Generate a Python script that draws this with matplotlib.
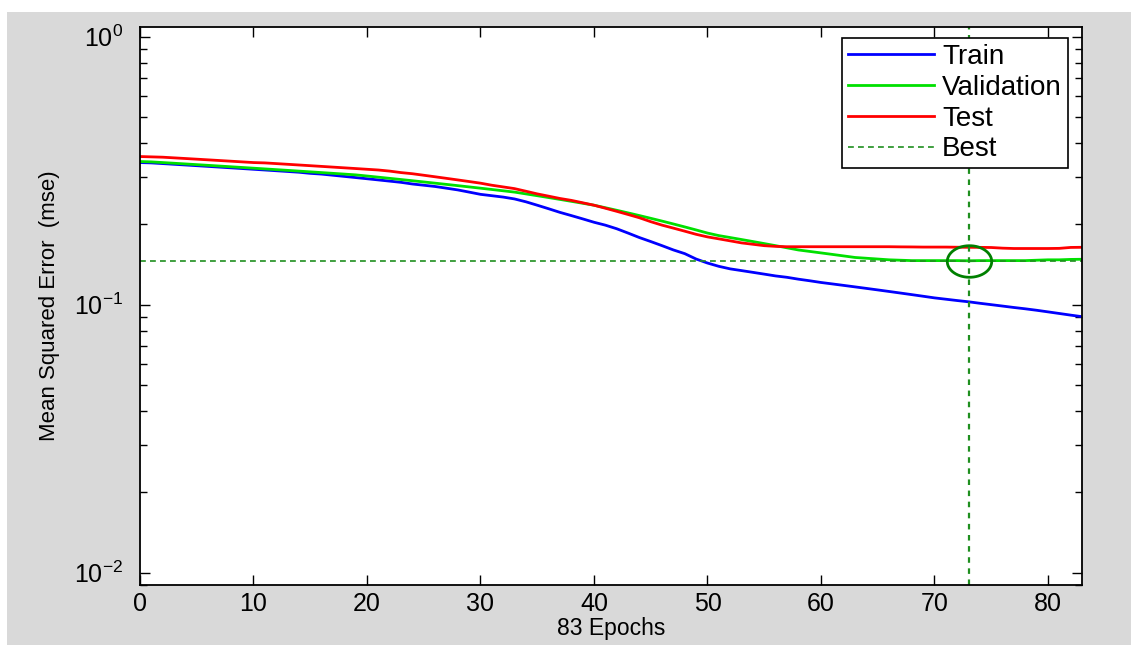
import matplotlib
matplotlib.use("Agg")
import matplotlib.pyplot as plt
from matplotlib.patches import Rectangle
from matplotlib.path import Path
import numpy as np

epochs = list(range(0, 84))

train = [0.339, 0.338, 0.336, 0.334, 0.332, 0.330, 0.328, 0.326, 0.324, 0.322,
         0.320, 0.318, 0.316, 0.314, 0.312, 0.309, 0.307, 0.304, 0.301, 0.298,
         0.295, 0.292, 0.289, 0.286, 0.282, 0.279, 0.276, 0.272, 0.268, 0.263,
         0.258, 0.255, 0.252, 0.248, 0.242, 0.235, 0.228, 0.221, 0.215, 0.209,
         0.203, 0.198, 0.192, 0.185, 0.178, 0.172, 0.166, 0.160, 0.155, 0.148,
         0.143, 0.139, 0.136, 0.134, 0.132, 0.130, 0.128, 0.1265, 0.1245, 0.1228,
         0.121, 0.1195, 0.118, 0.1165, 0.115, 0.1135, 0.112, 0.1105, 0.109, 0.1075,
         0.106, 0.1048, 0.1036, 0.1025, 0.1012, 0.100, 0.0988, 0.0976, 0.0965, 0.0953,
         0.0940, 0.0927, 0.0914, 0.0902]

validation = [0.342, 0.341, 0.339, 0.337, 0.335, 0.333, 0.331, 0.329, 0.327, 0.325,
              0.323, 0.321, 0.319, 0.317, 0.315, 0.313, 0.311, 0.309, 0.307, 0.305,
              0.302, 0.299, 0.296, 0.293, 0.290, 0.287, 0.284, 0.281, 0.278, 0.275,
              0.272, 0.269, 0.266, 0.263, 0.259, 0.255, 0.251, 0.247, 0.243, 0.239,
              0.235, 0.230, 0.225, 0.220, 0.215, 0.210, 0.205, 0.200, 0.195, 0.190,
              0.185, 0.181, 0.178, 0.175, 0.172, 0.169, 0.166, 0.163, 0.160, 0.158,
              0.156, 0.154, 0.152, 0.150, 0.149, 0.148, 0.147, 0.1465, 0.146, 0.146,
              0.146, 0.146, 0.146, 0.1458, 0.146, 0.146, 0.146, 0.146, 0.146, 0.1465,
              0.147, 0.147, 0.1475, 0.1477]

test = [0.357, 0.356, 0.355, 0.353, 0.351, 0.349, 0.347, 0.345, 0.343, 0.341,
        0.339, 0.338, 0.336, 0.334, 0.332, 0.330, 0.328, 0.326, 0.324, 0.322,
        0.320, 0.318, 0.315, 0.311, 0.308, 0.304, 0.300, 0.296, 0.292, 0.288,
        0.284, 0.279, 0.275, 0.271, 0.265, 0.259, 0.254, 0.249, 0.245, 0.240,
        0.235, 0.229, 0.223, 0.217, 0.211, 0.204, 0.198, 0.193, 0.188, 0.183,
        0.179, 0.176, 0.173, 0.170, 0.168, 0.166, 0.165, 0.1645, 0.1645, 0.1645,
        0.1645, 0.1645, 0.1645, 0.1645, 0.1645, 0.1645, 0.1645, 0.1643, 0.1642, 0.164,
        0.164, 0.164, 0.1638, 0.1637, 0.1636, 0.1634, 0.1625, 0.162, 0.162, 0.162,
        0.162, 0.1622, 0.1635, 0.1637]

best_epoch = 73
best_value = 0.1458

series_labels = ["Train", "Validation", "Test", "Best"]
xlabel_text = "83 Epochs"
ylabel_text = "Mean Squared Error  (mse)"
xticks = [0, 10, 20, 30, 40, 50, 60, 70, 80]

plt.rcParams['font.family'] = ['Liberation Sans', 'DejaVu Sans']
plt.rcParams['mathtext.default'] = 'regular'

W, H = 1131, 645
fig = plt.figure(figsize=(W / 100, H / 100), dpi=100)
fig.patch.set_facecolor('white')
fig.add_artist(Rectangle((7 / W, 0), 1 - 7 / W, (H - 12) / H, transform=fig.transFigure,
                         facecolor='#d9d9d9', edgecolor='none', zorder=-5))

ax = fig.add_axes([140 / W, (H - 585) / H, 942 / W, 558 / H])
ax.set_facecolor('white')

lw = 2.0
ax.plot(epochs, train, color='#0000ff', lw=lw, label=series_labels[0])
ax.plot(epochs, validation, color='#00e000', lw=lw, label=series_labels[1])
ax.plot(epochs, test, color='#ff0000', lw=lw, label=series_labels[2])
best_col = '#1f8f1f'
ax.axhline(best_value, color=best_col, lw=1.2, ls=(0, (3.5, 2.5)), label=series_labels[3])
ax.axvline(best_epoch, color=best_col, lw=1.6, ls=(0, (2.5, 2.5)))

t = np.linspace(0, 2 * np.pi, 60)
ell = Path(np.column_stack([np.cos(t), 0.71 * np.sin(t)]))
ax.plot([best_epoch], [best_value], marker=ell, ms=32, mfc='none', mec='#008000', mew=2.0,
        ls='none')

ax.set_yscale('log')
ax.set_xlim(0, 83)
ax.set_ylim(10 ** -2.046, 10 ** 0.036)
ax.set_xticks(xticks)
ax.set_yticks([1e-2, 1e-1, 1e0])
ax.tick_params(axis='both', which='both', direction='in', top=True, right=True,
               labelsize=18, colors='black')
ax.tick_params(axis='y', pad=12)
ax.tick_params(axis='x', pad=5)
ax.tick_params(which='major', length=7, width=1.0)
ax.tick_params(which='minor', length=5, width=1.0)
ax.tick_params(axis='x', which='minor', bottom=False, top=False)
for s in ax.spines.values():
    s.set_linewidth(1.3)
    s.set_color('black')

ax.set_xlabel(xlabel_text, fontsize=16.5, labelpad=1)
ax.set_ylabel(ylabel_text, fontsize=16, labelpad=10)

leg = ax.legend(loc='upper right', bbox_to_anchor=((1068 - 140) / 942, (585 - 38) / 558),
                borderaxespad=0, fontsize=20, frameon=True, fancybox=False,
                handlelength=3.1, handletextpad=0.3, labelspacing=0.17,
                borderpad=0.22)
leg.get_frame().set_edgecolor('black')
leg.get_frame().set_linewidth(1.2)
leg.get_frame().set_alpha(1)

fig.savefig('out.png', dpi=100, facecolor=fig.get_facecolor())
